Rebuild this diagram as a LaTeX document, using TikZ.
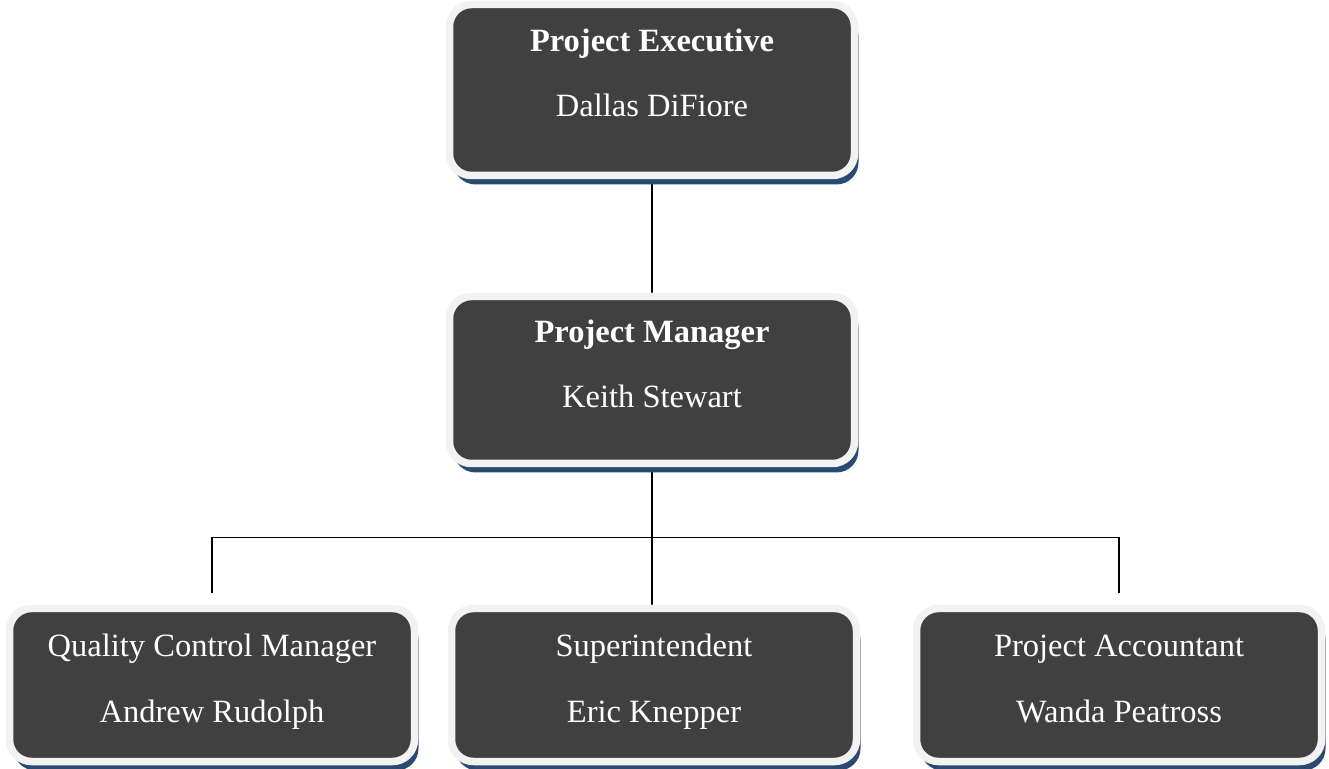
\documentclass[tikz,border=0pt]{standalone}
\usepackage{fontspec}
\setmainfont{Liberation Serif}
\usetikzlibrary{positioning,shadows,backgrounds}

\definecolor{boxgray}{HTML}{404040}
\definecolor{rimgray}{HTML}{F2F2F2}
\definecolor{shadowblue}{HTML}{2B4A72}

\begin{document}
\begin{tikzpicture}[x=1pt,y=1pt,
    staff/.style={rectangle, rounded corners=22pt, fill=boxgray, draw=rimgray,
        line width=7.5pt, minimum width=405pt, inner sep=0pt,
        drop shadow={shadow xshift=4pt, shadow yshift=-9pt, fill=shadowblue, opacity=1}},
    role/.style={text=white, anchor=base, font=\fontsize{32.5}{32.5}\selectfont},
    lead/.style={role, font=\fontsize{32.5}{32.5}\selectfont\bfseries},
    link/.style={line width=1.2pt, black}]
    \useasboundingbox (0,0) rectangle (1329,768);

    % Top level
    \node[staff, minimum height=171pt] (exec) at (652,678) {};
    \node[lead] (exec-title) at ([yshift=38pt]exec.center) {Project Executive};
    \node[role] (exec-name) at ([yshift=-27pt]exec.center) {Dallas DiFiore};

    % Second level
    \node[staff, minimum height=167pt] (mgr) at (652,388) {};
    \node[lead] (mgr-title) at ([yshift=37pt]mgr.center) {Project Manager};
    \node[role] (mgr-name) at ([yshift=-28pt]mgr.center) {Keith Stewart};

    % Third level
    \node[staff, minimum height=153pt] (qcm) at (212,83) {};
    \node[role] (qcm-title) at ([yshift=28pt]qcm.center) {Quality Control Manager};
    \node[role] (qcm-name) at ([yshift=-37pt]qcm.center) {Andrew Rudolph};

    \node[staff, minimum height=153pt] (sup) at (654,83) {};
    \node[role] (sup-title) at ([yshift=28pt]sup.center) {Superintendent};
    \node[role] (sup-name) at ([yshift=-37pt]sup.center) {Eric Knepper};

    \node[staff, minimum height=153pt] (acct) at (1119,83) {};
    \node[role] (acct-title) at ([yshift=28pt]acct.center) {Project Accountant};
    \node[role] (acct-name) at ([yshift=-37pt]acct.center) {Wanda Peatross};

    % Connectors
    \begin{scope}[on background layer]
        \draw[link] (exec.south) -- (mgr.north);
        \path (mgr.south) ++(0,-70) coordinate (bus);
        \draw[link] (mgr.south) -- (mgr.south |- sup.north);
        \draw[link] ([yshift=12pt]qcm.north) |- (bus) -| ([yshift=12pt]acct.north);
    \end{scope}
\end{tikzpicture}
\end{document}
